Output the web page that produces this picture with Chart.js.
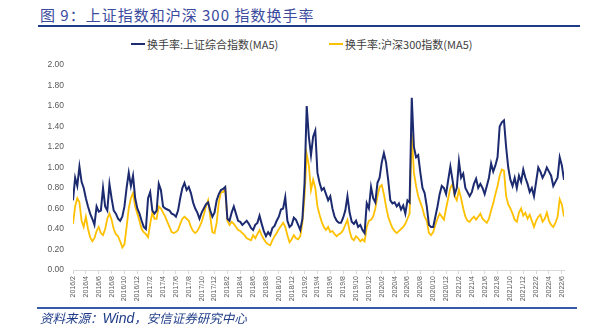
<!DOCTYPE html>
<html lang="zh-CN">
<head>
<meta charset="utf-8">
<title>上证指数和沪深300指数换手率</title>
<script src="https://cdn.jsdelivr.net/npm/chart.js@4.4.1/dist/chart.umd.min.js"></script>
<style>
  html, body { margin: 0; padding: 0; background: #fff; }
  #wrap { position: relative; width: 593px; height: 329px; overflow: hidden; background: #fff; }
  #c { position: absolute; left: 0; top: 0; }
  .title { position: absolute; left: 40px; top: 5px; font: 15px "Noto Sans CJK SC", sans-serif; letter-spacing: 1px; color: #3b4b9e; line-height: 20px; white-space: nowrap; }
  .rule { position: absolute; height: 2px; }
  .rule.top { left: 38px; top: 25px; width: 542px; background: #1f3a86; }
  .rule.bottom { left: 37px; top: 307px; width: 540px; height: 1.5px; background: #3659a8; }
  .legend { position: absolute; top: 36px; left: 0; width: 593px; height: 16px; font: 11px "Noto Sans CJK SC", sans-serif; color: #404040; }
  .legend .item { position: absolute; top: 0; display: flex; align-items: center; height: 16px; white-space: nowrap; }
  .legend .swatch { display: inline-block; width: 14px; height: 2px; margin-right: 2px; }
  .source { position: absolute; left: 40px; top: 309px; font: italic 12.5px "Noto Sans CJK SC", sans-serif; color: #1f3c88; line-height: 17px; white-space: nowrap; }
  .source .latin { font-family: "Liberation Sans", Arial, sans-serif; font-size: 14px; }
</style>
</head>
<body>
<div id="wrap">
  <div class="title">图 9：上证指数和沪深 300 指数换手率</div>
  <div class="rule top"></div>
  <div class="legend" id="legend"></div>
  <canvas id="c" width="593" height="329"></canvas>
  <div class="rule bottom"></div>
  <div class="source">资料来源：<span class="latin">Wind</span>，安信证券研究中心</div>
</div>
<script>
// Axis tick labels, one every two months from 2016/2 to 2022/6
const tickLabels = [
  '2016/2','2016/4','2016/6','2016/8','2016/10','2016/12',
  '2017/2','2017/4','2017/6','2017/8','2017/10','2017/12',
  '2018/2','2018/4','2018/6','2018/8','2018/10','2018/12',
  '2019/2','2019/4','2019/6','2019/8','2019/10','2019/12',
  '2020/2','2020/4','2020/6','2020/8','2020/10','2020/12',
  '2021/2','2021/4','2021/6','2021/8','2021/10','2021/12',
  '2022/2','2022/4','2022/6'
];

// Samples per month for both series (roughly every ten days)
const samplesPerMonth = 3;

const seriesNames = ['换手率:上证综合指数(MA5)', '换手率:沪深300指数(MA5)'];

// 换手率:上证综合指数(MA5), %
const shTurnover = [
  0.68, 0.90, 0.82, 1.01, 0.86, 0.80, 0.70, 0.62, 0.55, 0.50,
  0.44, 0.62, 0.57, 0.58, 0.80, 0.62, 0.58, 0.84, 0.70, 0.58,
  0.55, 0.50, 0.48, 0.52, 0.62, 0.80, 0.95, 0.82, 0.92, 0.70,
  0.60, 0.55, 0.48, 0.42, 0.40, 0.70, 0.76, 0.58, 0.55, 0.58,
  0.84, 0.78, 0.62, 0.60, 0.59, 0.58, 0.55, 0.54, 0.52, 0.58,
  0.70, 0.80, 0.85, 0.78, 0.81, 0.75, 0.66, 0.60, 0.56, 0.50,
  0.56, 0.60, 0.64, 0.66, 0.58, 0.52, 0.56, 0.68, 0.74, 0.78,
  0.79, 0.81, 0.50, 0.48, 0.56, 0.62, 0.55, 0.48, 0.47, 0.44,
  0.46, 0.48, 0.45, 0.41, 0.39, 0.44, 0.46, 0.53, 0.45, 0.38,
  0.33, 0.37, 0.34, 0.41, 0.43, 0.48, 0.52, 0.59, 0.60, 0.71,
  0.48, 0.42, 0.44, 0.51, 0.49, 0.44, 0.39, 0.50, 0.85, 1.60,
  1.30, 1.12, 1.30, 1.36, 0.95, 0.85, 0.78, 0.80, 0.74, 0.68,
  0.72, 0.60, 0.52, 0.48, 0.46, 0.46, 0.51, 0.58, 0.72, 0.56,
  0.47, 0.45, 0.48, 0.42, 0.44, 0.39, 0.36, 0.65, 0.60, 0.81,
  0.70, 0.66, 0.85, 0.90, 1.05, 1.14, 1.05, 0.88, 0.68, 0.65,
  0.66, 0.62, 0.65, 0.59, 0.63, 0.55, 0.68, 0.66, 1.68, 1.20,
  1.10, 1.12, 0.95, 0.80, 0.75, 0.62, 0.44, 0.42, 0.42, 0.52,
  0.62, 0.74, 0.82, 0.80, 0.74, 0.88, 1.01, 0.88, 0.74, 0.80,
  1.06, 0.90, 0.94, 0.80, 0.76, 0.72, 0.76, 0.84, 0.89, 0.80,
  0.84, 0.80, 0.74, 0.82, 0.90, 1.04, 0.96, 1.02, 1.10, 1.40,
  1.44, 1.46, 1.20, 1.00, 0.88, 0.82, 0.90, 0.80, 0.92, 0.86,
  0.98, 0.90, 0.84, 0.76, 0.80, 0.72, 0.86, 1.00, 0.96, 0.90,
  0.94, 1.00, 0.96, 0.92, 0.82, 0.86, 0.90, 1.10, 1.02, 0.88
];

// 换手率:沪深300指数(MA5), %
const hs300Turnover = [
  0.45, 0.62, 0.70, 0.66, 0.48, 0.42, 0.52, 0.40, 0.32, 0.28,
  0.31, 0.38, 0.42, 0.36, 0.34, 0.40, 0.50, 0.55, 0.49, 0.40,
  0.35, 0.33, 0.28, 0.22, 0.25, 0.42, 0.60, 0.70, 0.75, 0.62,
  0.55, 0.48, 0.40, 0.37, 0.35, 0.32, 0.45, 0.56, 0.50, 0.50,
  0.62, 0.60, 0.56, 0.52, 0.47, 0.42, 0.37, 0.36, 0.37, 0.39,
  0.45, 0.50, 0.52, 0.50, 0.48, 0.42, 0.38, 0.36, 0.38, 0.42,
  0.47, 0.54, 0.62, 0.68, 0.52, 0.37, 0.36, 0.46, 0.66, 0.76,
  0.76, 0.80, 0.48, 0.44, 0.47, 0.45, 0.42, 0.39, 0.38, 0.36,
  0.34, 0.31, 0.30, 0.29, 0.34, 0.31, 0.35, 0.39, 0.34, 0.30,
  0.27, 0.25, 0.24, 0.29, 0.33, 0.36, 0.40, 0.43, 0.46, 0.42,
  0.34, 0.27, 0.30, 0.34, 0.31, 0.30, 0.33, 0.46, 0.72, 1.13,
  1.02, 0.78, 0.88, 0.80, 0.62, 0.54, 0.47, 0.42, 0.39, 0.42,
  0.37, 0.38, 0.35, 0.33, 0.35, 0.36, 0.39, 0.44, 0.49, 0.38,
  0.31, 0.29, 0.33, 0.31, 0.28, 0.30, 0.28, 0.42, 0.48, 0.49,
  0.52, 0.60, 0.72, 0.81, 0.83, 0.74, 0.62, 0.52, 0.46, 0.41,
  0.38, 0.36, 0.38, 0.40, 0.42, 0.45, 0.50, 0.55, 1.33, 0.95,
  0.82, 0.72, 0.66, 0.60, 0.52, 0.48, 0.36, 0.34, 0.37, 0.44,
  0.50, 0.55, 0.52, 0.49, 0.60, 0.70, 0.80, 0.84, 0.72, 0.68,
  0.78, 0.70, 0.60, 0.52, 0.48, 0.47, 0.50, 0.52, 0.49, 0.52,
  0.55, 0.50, 0.48, 0.46, 0.50, 0.58, 0.65, 0.74, 0.82, 0.92,
  0.98, 0.97, 0.72, 0.64, 0.60, 0.55, 0.49, 0.47, 0.56, 0.60,
  0.53, 0.56, 0.50, 0.54, 0.48, 0.42, 0.48, 0.52, 0.54, 0.47,
  0.50, 0.56, 0.48, 0.44, 0.42, 0.46, 0.52, 0.69, 0.64, 0.52
];

const seriesColors = ['#1c2b70', '#ffc000'];

// x value = months elapsed since 2016/2
const toPoints = arr => arr.map((v, i) => ({ x: i / samplesPerMonth, y: v }));

// HTML legend built from the series names and colours
const legendEl = document.getElementById('legend');
const legendLefts = [131, 329];
seriesNames.forEach((name, k) => {
  const item = document.createElement('div');
  item.className = 'item';
  item.style.left = legendLefts[k] + 'px';
  const sw = document.createElement('span');
  sw.className = 'swatch';
  sw.style.background = seriesColors[k];
  const tx = document.createElement('span');
  tx.textContent = name;
  item.appendChild(sw);
  item.appendChild(tx);
  legendEl.appendChild(item);
});

new Chart(document.getElementById('c'), {
  type: 'line',
  data: {
    datasets: [
      {
        label: seriesNames[0],
        data: toPoints(shTurnover),
        borderColor: seriesColors[0],
        borderWidth: 2,
        pointRadius: 0,
        tension: 0,
        fill: false
      },
      {
        label: seriesNames[1],
        data: toPoints(hs300Turnover),
        borderColor: seriesColors[1],
        borderWidth: 1.8,
        pointRadius: 0,
        tension: 0,
        fill: false
      }
    ]
  },
  options: {
    responsive: false,
    animation: false,
    devicePixelRatio: 1,
    layout: { padding: { top: 65, right: 29, bottom: 24, left: 0 } },
    plugins: {
      legend: { display: false },
      tooltip: { enabled: false },
      title: { display: false }
    },
    scales: {
      x: {
        type: 'linear',
        min: 0,
        max: (shTurnover.length - 1) / samplesPerMonth,
        afterBuildTicks: axis => {
          axis.ticks = tickLabels.map((_, k) => ({ value: 2 * k }));
        },
        afterFit: axis => { axis.height = 35; },
        ticks: {
          autoSkip: false,
          minRotation: 90,
          maxRotation: 90,
          padding: 2,
          color: '#595959',
          font: { family: '"Liberation Sans", Arial, sans-serif', size: 7 },
          callback: v => tickLabels[Math.round(v / 2)]
        },
        grid: {
          display: true,
          drawOnChartArea: false,
          drawTicks: true,
          tickLength: 4,
          color: '#d9d9d9'
        },
        border: { display: true, color: '#d9d9d9', width: 1 }
      },
      y: {
        min: 0,
        max: 2,
        afterFit: axis => { axis.width = 73; },
        ticks: {
          stepSize: 0.2,
          padding: 9,
          color: '#595959',
          font: { family: '"Liberation Sans", Arial, sans-serif', size: 8.5 },
          callback: v => v.toFixed(2)
        },
        grid: { display: false, drawTicks: false },
        border: { display: false }
      }
    }
  }
});
</script>
</body>
</html>
